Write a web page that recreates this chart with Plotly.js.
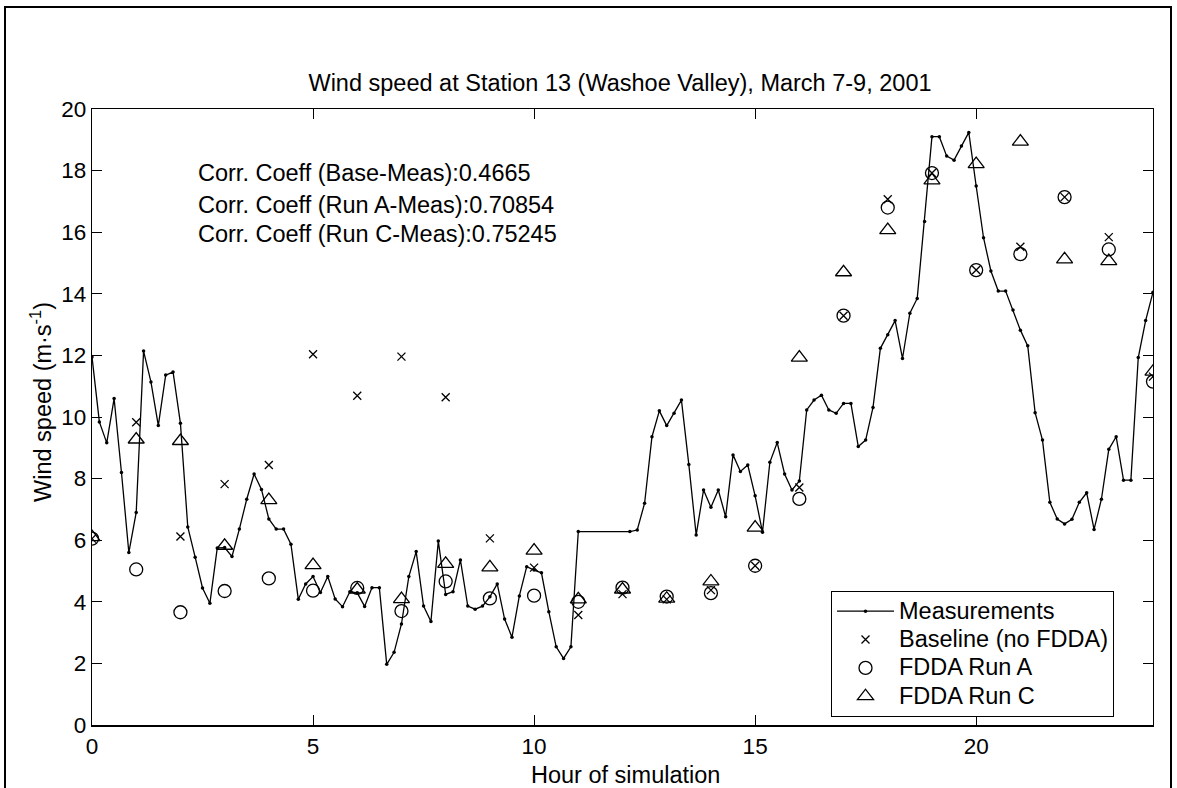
<!DOCTYPE html>
<html>
<head>
<meta charset="utf-8">
<script src="https://cdn.plot.ly/plotly-3.0.1.min.js"></script>
<style>html,body{margin:0;padding:0;background:#fff;}#chart{width:1177px;height:788px;}</style>
</head>
<body>
<div id="chart"></div>
<script>
// Measurement times (minutes from start) and measured wind speed (m/s)
const measMinutes = [0,10,20,30,40,50,60,70,80,90,100,110,120,130,140,150,160,170,180,190,200,210,220,230,240,250,260,270,280,290,300,310,320,330,340,350,360,370,380,390,400,410,420,430,440,450,460,470,480,490,500,510,520,530,540,550,560,570,580,590,600,610,620,630,640,650,660,730,740,750,760,770,780,790,800,810,820,830,840,850,860,870,880,890,900,910,920,930,940,950,960,970,980,990,1000,1010,1020,1030,1040,1050,1060,1070,1080,1090,1100,1110,1120,1130,1140,1150,1160,1170,1180,1190,1200,1210,1220,1230,1240,1250,1260,1270,1280,1290,1300,1310,1320,1330,1340,1350,1360,1370,1380,1390,1400,1410,1420,1430,1440];
const measSpeed = [11.95,9.84,9.16,10.6,8.2,5.6,6.9,12.14,11.14,9.72,
  11.36,11.46,9.8,6.43,5.45,4.45,3.95,5.75,5.76,5.47,
  6.36,7.33,8.15,7.65,6.69,6.36,6.36,5.87,4.08,4.58,
  4.82,4.3,4.82,4.09,3.84,4.33,4.29,3.85,4.46,4.46,
  1.97,2.36,3.28,4.82,5.63,3.86,3.36,5.97,4.24,4.33,
  5.36,3.86,3.76,3.86,4.16,4.58,3.44,2.85,4.19,5.14,
  5.03,4.94,3.68,2.54,2.16,2.54,6.28,
  6.28,6.33,7.2,9.36,10.2,9.72,10.12,
  10.55,8.46,6.17,7.63,7.07,7.63,6.76,8.77,8.23,8.44,
  7.44,6.26,8.53,9.17,8.15,7.63,7.92,10.23,10.55,10.71,
  10.23,10.12,10.44,10.44,9.04,9.25,10.31,12.23,12.67,13.13,
  11.9,13.37,13.85,16.35,19.1,19.1,18.47,18.34,18.8,19.24,
  17.5,15.82,14.74,14.09,14.09,13.47,12.82,12.31,10.14,9.25,
  7.23,6.69,6.53,6.68,7.23,7.54,6.35,7.33,8.95,9.36,
  7.95,7.95,11.93,13.13,14.05];

// Hourly model output
const modelHours = [0,1,2,3,4,5,6,7,8,9,10,11,12,13,14,15,16,17,18,19,20,21,22,23,24];
const baseline = [6.05,9.83,6.12,7.82,8.44,12.04,10.69,11.96,10.64,6.06,5.11,3.57,4.25,4.08,4.38,5.17,7.71,13.29,17.07,17.92,14.77,15.53,17.14,15.84,11.31];
const runA = [6.05,5.05,3.66,4.35,4.76,4.36,4.45,3.7,4.66,4.11,4.2,4.0,4.46,4.17,4.28,5.17,7.34,13.29,16.8,17.92,14.77,15.29,17.14,15.44,11.15];
const runC = [6.1,9.27,9.22,5.82,7.3,5.19,4.4,4.09,5.23,5.12,5.66,4.08,4.4,4.1,4.66,6.41,11.93,14.7,16.07,17.68,18.21,18.94,15.12,15.06,11.47];

const seriesNames = ['Measurements', 'Baseline (no FDDA)', 'FDDA Run A', 'FDDA Run C'];
const xTicks = [0,5,10,15,20];
const yTicks = [0,2,4,6,8,10,12,14,16,18,20];
const corrLines = [
  "Corr. Coeff (Base-Meas):0.4665",
  "Corr. Coeff (Run A-Meas):0.70854",
  "Corr. Coeff (Run C-Meas):0.75245"
];

const measHours = measMinutes.map(m => m / 60);
const FONT = "Arial, 'Liberation Sans', Helvetica, sans-serif";
const FS = 23.5;
const legName = n => '<span style="font-size:' + FS + 'px">' + n + '</span>';

const traces = [
  {x: measHours, y: measSpeed, mode: 'lines+markers', name: legName(seriesNames[0]),
   line: {color: '#000', width: 1.3}, marker: {symbol: 'circle', size: 3.5, color: '#000'}},
  {x: modelHours, y: baseline, mode: 'markers', name: legName(seriesNames[1]),
   marker: {symbol: 'x-thin-open', size: 8, color: '#000', line: {color: '#000', width: 1.3}}},
  {x: modelHours, y: runA, mode: 'markers', name: legName(seriesNames[2]),
   marker: {symbol: 'circle-open', size: 13, color: '#000', line: {color: '#000', width: 1.3}}},
  {x: modelHours, y: runC, mode: 'markers', name: legName(seriesNames[3]),
   marker: {symbol: 'triangle-up-open', size: 14, color: '#000', line: {color: '#000', width: 1.3}}}
];

const L = 92, R = 1153, T = 109, B = 725, W = 1177, H = 788;
const pw = R - L, ph = B - T;
const px = v => (v - L) / pw;
const py = v => (B - v) / ph;

const corrY = [173, 205, 234];
const annotations = corrLines.map((t, i) => ({
  text: t, xref: 'paper', yref: 'paper', x: px(196), y: py(corrY[i]),
  xanchor: 'left', yanchor: 'middle', showarrow: false,
  font: {family: FONT, size: FS, color: '#000'}
}));
annotations.push({
  text: 'Wind speed (m·s<sup>-1</sup>)', xref: 'paper', yref: 'paper',
  x: px(41), y: py(402), xanchor: 'center', yanchor: 'middle', textangle: -90,
  showarrow: false, font: {family: FONT, size: FS, color: '#000'}
});
annotations.push({
  text: 'Hour of simulation', xref: 'paper', yref: 'paper',
  x: px(625), y: py(775), xanchor: 'center', yanchor: 'middle',
  showarrow: false, font: {family: FONT, size: FS, color: '#000'}
});

const layout = {
  width: W, height: H,
  margin: {l: L, r: W - R, t: T, b: H - B, pad: 0},
  paper_bgcolor: '#fff', plot_bgcolor: '#fff',
  font: {family: FONT, size: FS, color: '#000'},
  title: {text: 'Wind speed at Station 13 (Washoe Valley), March 7-9, 2001',
          font: {family: FONT, size: FS, color: '#000'},
          x: px(620), xanchor: 'center', y: 1 - 83 / H, yanchor: 'middle', xref: 'paper', yref: 'container'},
  xaxis: {range: [0, 24], tickvals: xTicks, ticktext: xTicks.map(String),
          ticks: 'inside', ticklen: 10, tickwidth: 1, tickcolor: '#000',
          showline: true, linecolor: '#000', linewidth: 1.5, mirror: 'ticks',
          showgrid: false, zeroline: false,
          tickfont: {family: FONT, size: 22.5, color: '#000'}},
  yaxis: {range: [0, 20], tickvals: yTicks, ticktext: yTicks.map(String),
          ticks: 'inside', ticklen: 10, tickwidth: 1, tickcolor: '#000',
          showline: true, linecolor: '#000', linewidth: 1.2, mirror: 'ticks',
          showgrid: false, zeroline: false,
          tickfont: {family: FONT, size: 22.5, color: '#000'}},
  legend: {x: px(831), y: py(591), xanchor: 'left', yanchor: 'top',
           bgcolor: '#fff', bordercolor: '#000', borderwidth: 1,
           font: {family: FONT, size: 19.5, color: '#000'}, itemwidth: 57, tracegroupgap: 0},
  showlegend: true,
  annotations: annotations,
  shapes: [
    {type: 'rect', xref: 'paper', yref: 'paper', x0: px(5), x1: px(1171), y0: py(800), y1: py(7),
     line: {color: '#000', width: 2}, fillcolor: 'rgba(0,0,0,0)', layer: 'below'}
  ]
};

Plotly.newPlot('chart', traces, layout, {displayModeBar: false, staticPlot: true});
</script>
</body>
</html>
